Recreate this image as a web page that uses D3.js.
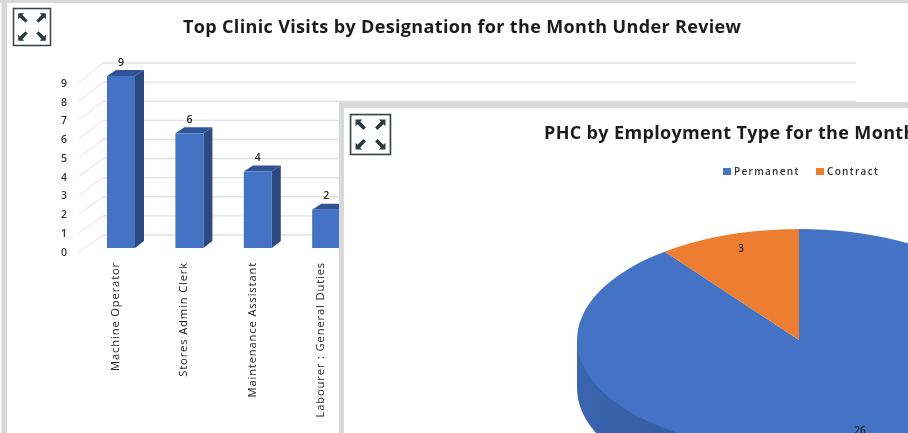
<!DOCTYPE html>
<html><head><meta charset="utf-8">
<style>html,body{margin:0;padding:0;background:#fff;overflow:hidden}svg{display:block;filter:blur(0.45px)}</style>
<script src="https://cdn.jsdelivr.net/npm/d3@7/dist/d3.min.js"></script>
</head><body><svg id="c" width="908" height="433"></svg>
<script>
const designations=["Machine Operator","Stores Admin Clerk","Maintenance Assistant","Labourer : General Duties"];
const visits=[9,6,4,2];
const yTicks=[0,1,2,3,4,5,6,7,8,9];
const employmentTypes=["Permanent","Contract"];
const headcount=[26,3];
const title1="Top Clinic Visits by Designation for the Month Under Review";
const title2="PHC by Employment Type for the Month";
const svg=d3.select("#c");
const font='"Open Sans",sans-serif';
function icon(x,y,s){
  const g=svg.append("g").attr("transform",`translate(${x},${y}) scale(${s/37})`);
  g.append("rect").attr("x",.5).attr("y",.5).attr("width",36).attr("height",36).attr("fill","#fff").attr("stroke","#3d4446").attr("stroke-width",1.5);
  [[0,0],[1,0],[0,1],[1,1]].forEach(([a,b])=>{
    const sx=a?-1:1,sy=b?-1:1,ox=a?32:5,oy=b?32:5;
    g.append("path").attr("transform",`translate(${ox},${oy}) scale(${sx*.85},${sy*.85})`).attr("d","M0,0H7L5,2L11,8.5L8.5,11L2,5L0,7Z").attr("fill","#2f3b40");
  });
}
svg.append("rect").attr("width",908).attr("height",433).attr("fill","#d9d9d9");
svg.append("rect").attr("x",0).attr("y",3).attr("width",1.5).attr("height",430).attr("fill","#fff");
svg.append("rect").attr("x",7).attr("y",3).attr("width",901).attr("height",430).attr("fill","#fff");
icon(13,8,38);
svg.append("text").attr("x",462).attr("y",33).attr("text-anchor","middle").attr("font-size",18).attr("font-weight",700).attr("fill","#1c1c1c").style("font-family",font).attr("textLength",558).text(title1);
const y=d3.scaleLinear().domain([0,9]).range([248,76]);
const yLabel=y.copy().range([251.5,82.5]);
const x=d3.scaleBand().domain(designations).range([107,340.2]).paddingInner(.5906).paddingOuter(0);
const barW=x.bandwidth(),dx=9,dy=7,wallOff=-13;
const grid=svg.append("g");
yTicks.forEach(t=>{
  const yy=y(t)+wallOff;
  grid.append("line").attr("x1",103).attr("x2",856).attr("y1",yy).attr("y2",yy).attr("stroke","#e2e2e2").attr("stroke-width",1.4);
  grid.append("line").attr("x1",79).attr("x2",103).attr("y1",yLabel(t)).attr("y2",yy).attr("stroke","#e2e2e2").attr("stroke-width",1);
});
const yAxis=svg.append("g").attr("transform","translate(67,0)").call(d3.axisLeft(yLabel).tickValues(yTicks).tickSize(0).tickPadding(0));
yAxis.select(".domain").remove();
yAxis.selectAll("text").attr("dy","0.36em").style("font-family",font).attr("font-size",10.5).attr("font-weight",600).attr("fill","#333").attr("text-anchor","end");
const bars=svg.selectAll("g.bar").data(designations).join("g").attr("class","bar");
bars.append("path").attr("fill","#2f5597").attr("d",(d,i)=>{const X=x(d),T=y(visits[i]);return `M${X},${T}L${X+dx},${T-dy+1}H${X+barW+dx}L${X+barW},${T}Z`});
bars.append("path").attr("fill","#2c4a80").attr("d",(d,i)=>{const X=x(d)+barW,T=y(visits[i]);return `M${X},${T}L${X+dx},${T-dy+1}V${y(0)-dy}L${X},${y(0)}Z`});
bars.append("rect").attr("fill","#4472c4").attr("x",d=>x(d)).attr("width",barW).attr("y",(d,i)=>y(visits[i])).attr("height",(d,i)=>y(0)-y(visits[i]));
bars.append("text").attr("x",d=>x(d)+14).attr("y",(d,i)=>y(visits[i])-10.5).attr("text-anchor","middle").style("font-family",font).attr("font-size",10.5).attr("font-weight",600).attr("fill","#222").text((d,i)=>visits[i]);
bars.append("text").attr("transform",d=>`translate(${x(d)+12},262) rotate(-90)`).attr("text-anchor","end").style("font-family",font).attr("font-size",11.2).attr("letter-spacing",.85).attr("fill","#222").text(d=>d);
svg.append("rect").attr("x",339).attr("y",102).attr("width",569).attr("height",331).attr("fill","#d9d9d9");
svg.append("rect").attr("x",344).attr("y",108).attr("width",564).attr("height",325).attr("fill","#fff");
icon(350,114,41);
svg.append("text").attr("x",544).attr("y",139).attr("font-size",18).attr("font-weight",700).attr("letter-spacing",.35).attr("fill","#1c1c1c").style("font-family",font).text(title2);
const legX=[723,816],legColor=["#4472c4","#ed7d31"];
employmentTypes.forEach((n,i)=>{
  svg.append("rect").attr("x",legX[i]).attr("y",168).attr("width",8).attr("height",7).attr("fill",legColor[i]);
  svg.append("text").attr("x",legX[i]+11).attr("y",175).style("font-family",font).attr("font-size",10).attr("font-weight",600).attr("letter-spacing",1.3).attr("fill","#333").text(n);
});
const cx=799,cy=340,rx=222,ry=111,depth=48;
const arcs=d3.pie().sort(null).value(d=>d)(headcount);
const arc=d3.arc().innerRadius(0).outerRadius(rx);
const grad=svg.append("defs").append("linearGradient").attr("id","rim").attr("x1","0").attr("x2","1");
grad.append("stop").attr("offset",0).attr("stop-color","#3a64ad");
grad.append("stop").attr("offset",.5).attr("stop-color","#2f5597");
grad.append("stop").attr("offset",1).attr("stop-color","#3a64ad");
svg.append("path").attr("fill","url(#rim)").attr("d",`M${cx-rx},${cy}V${cy+depth}A${rx},${ry} 0 0 0 ${cx+rx},${cy+depth}V${cy}Z`);
const face=svg.append("g").attr("transform",`translate(${cx},${cy}) scale(1,${ry/rx})`);
face.selectAll("path").data(arcs).join("path").attr("d",arc).attr("fill",(d,i)=>legColor[i]);
const labelPos=[[860,434],[741,252]];
headcount.forEach((v,i)=>svg.append("text").attr("x",labelPos[i][0]).attr("y",labelPos[i][1]).attr("text-anchor","middle").style("font-family",font).attr("font-size",10).attr("font-weight",600).attr("fill","#222").text(v));
</script></body></html>
